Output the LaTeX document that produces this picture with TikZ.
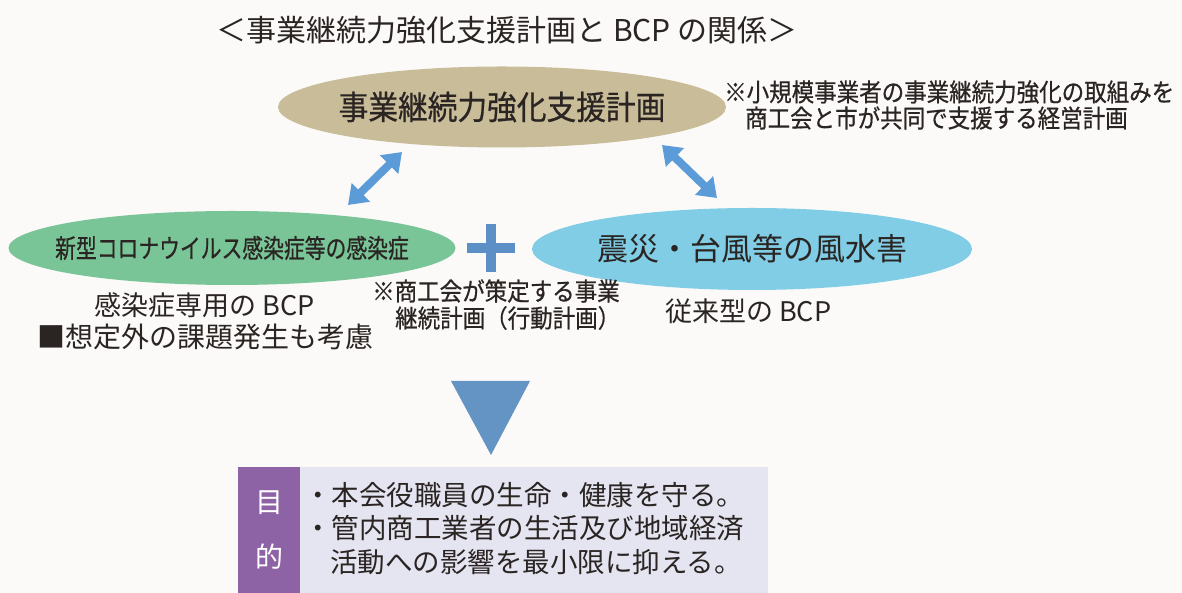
\documentclass[tikz,border=0pt]{standalone}
\usepackage{fontspec}
\setmainfont{Noto Sans CJK JP}
\newfontfamily\jp{Noto Sans CJK JP}
\newfontfamily\jpb[FakeStretch=0.9,FakeBold=0.6]{Noto Sans CJK JP}
\newfontfamily\jpa[FakeStretch=0.8,FakeBold=0.6]{Noto Sans CJK JP}
\usetikzlibrary{shapes.geometric,arrows.meta}
\newcommand\fsz[1]{\fontsize{#1}{#1}\selectfont}
\definecolor{bgc}{HTML}{FBFAF8}
\definecolor{tanc}{HTML}{C9BC99}
\definecolor{greenc}{HTML}{79C597}
\definecolor{bluec}{HTML}{80CDE5}
\definecolor{arrc}{HTML}{5B9BD8}
\definecolor{plusc}{HTML}{5D8FC7}
\definecolor{tric}{HTML}{6394C3}
\definecolor{purpc}{HTML}{8E63A5}
\definecolor{lavc}{HTML}{E5E5F2}
\definecolor{txtc}{HTML}{2A2422}
\begin{document}
\begin{tikzpicture}[x=1pt,y=1pt,
  ell/.style={ellipse,inner sep=0pt,draw=none},
  txt/.style={inner sep=0pt,text=txtc},
  dbl/.style={draw=arrc,line width=8pt,
    {Triangle[width=25pt,length=18pt]}-{Triangle[width=25pt,length=18pt]}}]
\fill[bgc] (0,0) rectangle (1182,593);
\useasboundingbox (0,0) rectangle (1182,593);

% title
\node[txt,font=\jp\fsz{30}] (title) at (507,563) {＜事業継続力強化支援計画と BCP の関係＞};

% ellipses
\node[ell,fill=tanc,minimum width=448pt,minimum height=81pt] (tan) at (502,486) {};
\node[txt,font=\jpb\fsz{33}] (tantxt) at (tan.center) {事業継続力強化支援計画};
\node[ell,fill=greenc,minimum width=447pt,minimum height=74pt] (green) at (232,345) {};
\node[txt,font=\jpa\fsz{26}] (greentxt) at (green.center) {新型コロナウイルス感染症等の感染症};
\node[ell,fill=bluec,minimum width=440pt,minimum height=82pt] (blue) at (752,344) {};
\node[txt,font=\jp\fsz{31}] (bluetxt) at (blue.center) {震災・台風等の風水害};

% note
\node[txt,font=\jpb\fsz{25},anchor=west] (note1) at (724,501) {※小規模事業者の事業継続力強化の取組みを};
\node[txt,font=\jpb\fsz{25},anchor=west] (note2) at (745,475) {商工会と市が共同で支援する経営計画};

% arrows
\coordinate (a1) at (348,388);
\coordinate (a2) at (402,441);
\coordinate (b1) at (662,448);
\coordinate (b2) at (717,395);
\draw[dbl] (a1) -- (a2);
\draw[dbl] (b1) -- (b2);

% plus
\fill[plusc] (467,340) rectangle (515,350);
\fill[plusc] (486,321) rectangle (496,369);

% labels under ellipses
\node[txt,font=\jp\fsz{27}] (lg1) at (205,288) {感染症専用の BCP};
\node[txt,font=\jp\fsz{28},anchor=west] (lg2) at (37,256) {■想定外の課題発生も考慮};
\node[txt,font=\jpb\fsz{25},anchor=west] (lm1) at (372,302) {※商工会が策定する事業};
\node[txt,font=\jpb\fsz{25},anchor=west] (lm2) at (395,275) {継続計画（行動計画）};
\node[txt,font=\jp\fsz{27},anchor=west] (lb1) at (665,282) {従来型の BCP};

% triangle
\fill[tric] (451,212) -- (530,212) -- (491,138) -- cycle;

% purpose box
\fill[purpc] (238,0) rectangle (300,126);
\fill[lavc] (300,0) rectangle (768,126);
\node[inner sep=0pt,text=white,font=\jp\fsz{28}] (m1) at (269,90) {目};
\node[inner sep=0pt,text=white,font=\jp\fsz{28}] (m2) at (269,36) {的};
\node[txt,font=\jp\fsz{27.5},anchor=west] (p1) at (304,98) {・本会役職員の生命・健康を守る。};
\node[txt,font=\jp\fsz{27.5},anchor=west] (p2) at (304,65) {・管内商工業者の生活及び地域経済};
\node[txt,font=\jp\fsz{27.5},anchor=west] (p3) at (330,31) {活動への影響を最小限に抑える。};
\end{tikzpicture}
\end{document}
